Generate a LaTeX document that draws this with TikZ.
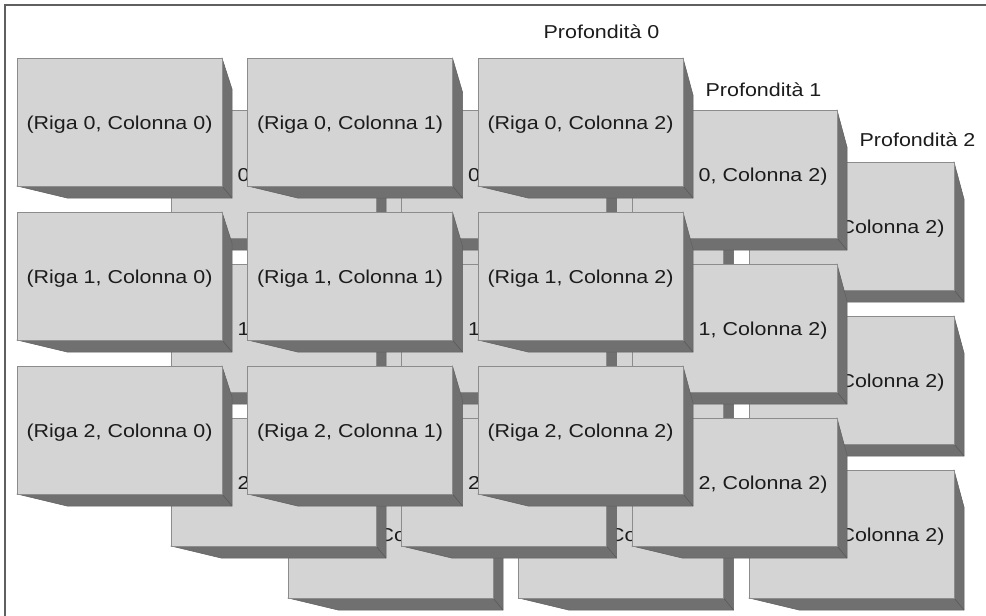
\documentclass[tikz,border=0pt]{standalone}
\usepackage{fontspec}
\setmainfont{Liberation Sans}[FakeStretch=1.15]
\definecolor{face}{RGB}{212,212,212}
\definecolor{side}{RGB}{112,112,112}
\definecolor{edge}{RGB}{140,140,140}
\definecolor{txt}{RGB}{28,28,28}
\definecolor{frame}{RGB}{95,95,95}
\begin{document}
\begin{tikzpicture}[x=1pt,y=-1pt,
  facestyle/.style={fill=face,draw=edge,line width=0.8pt},
  sidestyle/.style={fill=side,draw=side!85!black,line width=0.5pt},
  lbl/.style={font=\fontsize{18.65}{20}\selectfont,text=txt,inner sep=0pt,anchor=base}]
\useasboundingbox (0,0) rectangle (986,616);
\fill[white] (0,0) rectangle (986,616);
\draw[line width=1.5pt,draw=frame] (5,616) -- (5,5) -- (986,5);
\foreach \dep/\ox/\oy in {2/288/162, 1/171/110, 0/17/58} {
  \foreach \row in {0,1,2} {
    \foreach \col in {0,1,2} {
      \pgfmathsetmacro\xa{\ox+230.5*\col}
      \pgfmathsetmacro\ya{\oy+154*\row}
      \pgfmathsetmacro\xb{\xa+205}
      \pgfmathsetmacro\yb{\ya+128}
      \pgfmathsetmacro\sl{31+3*\col}
      \path[sidestyle] (\xb,\ya) -- (\xb+10,\ya+\sl) -- (\xb+10,\yb+12) -- (\xa+50,\yb+12) -- (\xa,\yb) -- cycle;
      \draw[side!80!black,line width=0.6pt] (\xb,\yb) -- (\xb+10,\yb+12);
      \draw[facestyle] (\xa,\ya) rectangle (\xb,\yb);
      \node[lbl] (b-\dep-\row-\col) at ({(\xa+\xb)/2},\ya+71) {(Riga \row, Colonna \col)};
    }
  }
}
\node[lbl] (p0) at (601.5,38) {Profondità 0};
\node[lbl] (p1) at (763.5,96.5) {Profondità 1};
\node[lbl] (p2) at (917.5,146.7) {Profondità 2};
\end{tikzpicture}
\end{document}
